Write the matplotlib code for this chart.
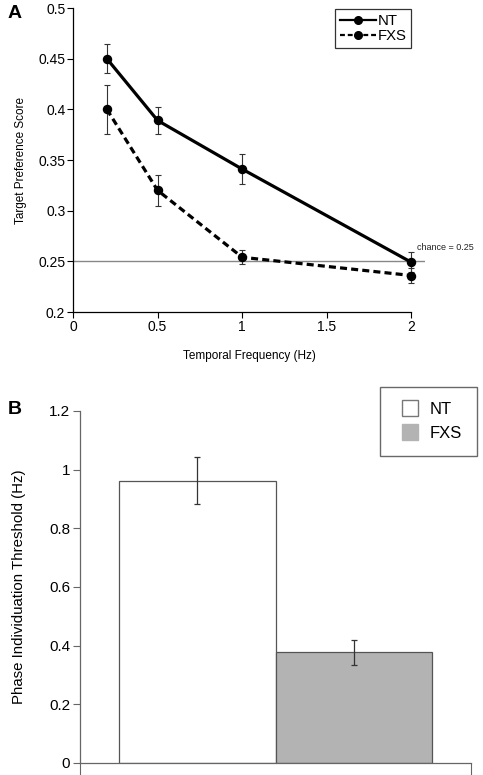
import matplotlib
matplotlib.use("Agg")
import matplotlib.pyplot as plt
from matplotlib.lines import Line2D

plt.rcParams['font.family'] = ['Liberation Sans', 'DejaVu Sans']

# Panel A data
freq = [0.2, 0.5, 1.0, 2.0]
nt_score = [0.450, 0.389, 0.341, 0.249]
nt_err = [0.014, 0.013, 0.015, 0.010]
fxs_score = [0.400, 0.320, 0.254, 0.236]
fxs_err = [0.024, 0.015, 0.007, 0.007]
chance = 0.25

# Panel B data
groups = ['NT', 'FXS']
threshold = [0.963, 0.377]
threshold_err = [0.080, 0.042]

fig = plt.figure(figsize=(4.83, 7.75), dpi=100)

# ---------- Panel A ----------
axA = fig.add_axes([73/483, 1-312/775, (425-73)/483, (312-8)/775])
axA.errorbar(freq, nt_score, yerr=nt_err, color='black', lw=2.3, marker='o', ms=5.8,
             ecolor='#333333', elinewidth=0.8, capsize=2, capthick=0.8, label='NT', zorder=3)
axA.errorbar(freq, fxs_score, yerr=fxs_err, color='black', lw=2.3, ls=(0, (2.2, 1.3)), marker='o', ms=5.8,
             ecolor='#333333', elinewidth=0.8, capsize=2, capthick=0.8, label='FXS', zorder=3)
axA.axhline(chance, color='#888888', lw=1.0, zorder=1)
axA.text(2.03, chance + 0.009, 'chance = 0.25', fontsize=6.5, color='#222222', va='bottom', ha='left')
axA.set_xlim(0, 2.08)
axA.set_ylim(0.2, 0.5)
axA.set_xticks([0, 0.5, 1, 1.5, 2])
axA.set_xticklabels(['0', '0.5', '1', '1.5', '2'])
axA.set_yticks([0.2, 0.25, 0.3, 0.35, 0.4, 0.45, 0.5])
axA.set_yticklabels(['0.2', '0.25', '0.3', '0.35', '0.4', '0.45', '0.5'])
axA.spines['top'].set_visible(False)
axA.spines['right'].set_visible(False)
axA.spines['bottom'].set_bounds(0, 2)
for s in ['left', 'bottom']:
    axA.spines[s].set_linewidth(0.9)
axA.tick_params(labelsize=10, length=4, width=0.8, pad=1.5)
axA.set_xlabel('Temporal Frequency (Hz)', fontsize=8.5, labelpad=12)
axA.set_ylabel('Target Preference Score', fontsize=8.5, labelpad=8)
hA = [Line2D([0], [0], color='black', lw=1.6, marker='o', ms=5.5),
      Line2D([0], [0], color='black', lw=1.6, ls=(0, (2.2, 1.3)), marker='o', ms=5.5)]
legA = axA.legend(hA, ['NT', 'FXS'], loc='upper left', bbox_to_anchor=(335/483, 1-9/775),
                  bbox_transform=fig.transFigure, fontsize=10.7, frameon=True, fancybox=False,
                  edgecolor='black', handlelength=2.4, handletextpad=0.1, borderpad=0.35,
                  labelspacing=0.05, borderaxespad=0)
legA.get_frame().set_linewidth(0.9)
fig.text(8/483, 1-14/775, 'A', fontsize=14, fontweight='bold', va='center', ha='left')

# ---------- Panel B ----------
axB = fig.add_axes([80/483, 1-763/775, (471-80)/483, (763-411)/775])
xpos = [1, 2]
axB.bar(xpos, threshold, width=1.0, color=['white', '#b3b3b3'], edgecolor='#555555', lw=0.9, zorder=2)
axB.errorbar(xpos, threshold, yerr=threshold_err, fmt='none', ecolor='#333333', elinewidth=0.9,
             capsize=2.5, capthick=0.9, zorder=3)
axB.set_xlim(0.25, 2.75)
axB.set_ylim(0, 1.2)
axB.set_yticks([0, 0.2, 0.4, 0.6, 0.8, 1.0, 1.2])
axB.set_yticklabels(['0', '0.2', '0.4', '0.6', '0.8', '1', '1.2'])
axB.set_xticks([0.25, 2.75])
axB.set_xticklabels(['', ''])
axB.spines['top'].set_visible(False)
axB.spines['right'].set_visible(False)
for s in ['left', 'bottom']:
    axB.spines[s].set_color('#666666')
    axB.spines[s].set_linewidth(0.9)
axB.tick_params(axis='y', labelsize=11, length=5, width=0.8, color='#666666', pad=2)
axB.tick_params(axis='x', length=10, width=0.8, color='#666666')
axB.set_ylabel('Phase Individuation Threshold (Hz)', fontsize=10.8, labelpad=17)
hB = [Line2D([], [], ls='', marker='s', ms=11.5, mfc='white', mec='#777777', mew=1.0),
      Line2D([], [], ls='', marker='s', ms=11.5, mfc='#b3b3b3', mec='#b3b3b3', mew=1.0)]
legB = axB.legend(hB, ['NT', 'FXS'], loc='upper left', bbox_to_anchor=(380/483, 1-387/775),
                  bbox_transform=fig.transFigure, fontsize=12, frameon=True, fancybox=False,
                  edgecolor='#444444', handlelength=1.8, handletextpad=0.3,
                  borderpad=0.9, labelspacing=0.55, borderaxespad=0)
legB.get_frame().set_linewidth(1.0)
fig.text(8/483, 1-409/775, 'B', fontsize=14, fontweight='bold', va='center', ha='left')

fig.savefig('out.png', dpi=100)
